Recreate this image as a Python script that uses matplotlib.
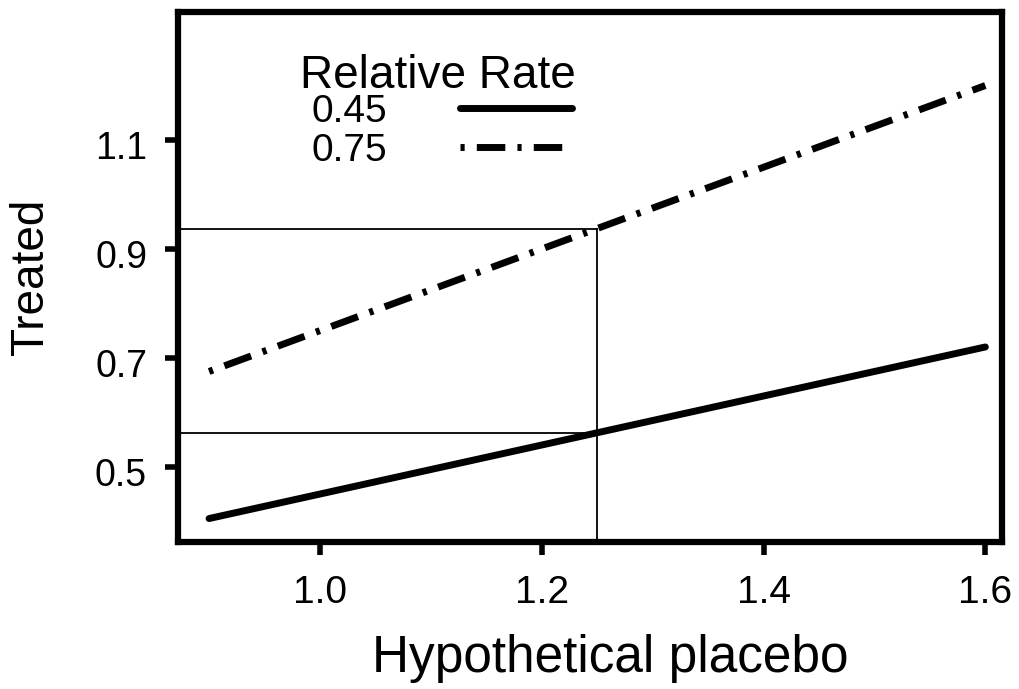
import matplotlib
matplotlib.use("Agg")
import matplotlib.pyplot as plt
import matplotlib.transforms as mtransforms

plt.rcParams['font.family'] = ['Liberation Sans', 'DejaVu Sans']

# Data
placebo = [0.90, 1.60]
treated_rr045 = [0.405, 0.720]
treated_rr075 = [0.675, 1.200]
rate_labels = ["0.45", "0.75"]
legend_title = "Relative Rate"
ref_placebo = 1.25
ref_treated = [0.5625, 0.9375]
xticks = [1.0, 1.2, 1.4, 1.6]
xticklabels = ["1.0", "1.2", "1.4", "1.6"]
yticks = [0.5, 0.7, 0.9, 1.1]
yticklabels = ["0.5", "0.7", "0.9", "1.1"]

fig = plt.figure(figsize=(10.19, 6.89), dpi=100)
ax = fig.add_axes([0.1747, 0.2134, 0.8086, 0.7692])

xmin, xmax = 0.872, 1.615
ymin, ymax = 0.362, 1.335
ax.set_xlim(xmin, xmax)
ax.set_ylim(ymin, ymax)

# reference lines
for yv in ref_treated:
    ax.plot([xmin, ref_placebo], [yv, yv], color='black', lw=1.3, zorder=2)
ax.plot([ref_placebo, ref_placebo], [ymin, max(ref_treated)], color='black', lw=1.3, zorder=2)

l1, = ax.plot(placebo, treated_rr045, color='black', lw=5, solid_capstyle='round',
              label=rate_labels[0], zorder=3)
l2, = ax.plot(placebo, treated_rr075, color='black', lw=5, dash_capstyle='butt',
              label=rate_labels[1], zorder=3)
l2.set_dashes([0.6, 1.75, 4.1, 1.75])

ax.set_xticks(xticks)
ax.set_xticklabels(xticklabels)
ax.set_yticks(yticks)
ax.set_yticklabels(yticklabels)
ax.tick_params(direction='out', length=9.5, width=4)
ax.tick_params(axis='x', labelsize=28, pad=14.5)
ax.tick_params(axis='y', labelsize=27, pad=12.8)

# nudge y tick labels slightly down as in the reference
offset = mtransforms.ScaledTranslation(0, -5 / 100, fig.dpi_scale_trans)
for lab in ax.get_yticklabels():
    lab.set_transform(lab.get_transform() + offset)

for sp in ax.spines.values():
    sp.set_linewidth(4.5)

ax.set_xlabel("Hypothetical placebo", fontsize=37, labelpad=16)
ax.xaxis.label.set_x(0.524)
ax.set_ylabel("Treated", fontsize=33, labelpad=30)

leg = ax.legend(handles=[l1, l2], markerfirst=False, frameon=False,
                loc='upper left', bbox_to_anchor=(0.162, 0.8455), fontsize=28,
                handlelength=2.88, handletextpad=1.87,
                labelspacing=0.08, borderpad=0, borderaxespad=0)

ax.text(0.148, 0.856, legend_title, transform=ax.transAxes, fontsize=33,
        ha='left', va='baseline')

fig.savefig("out.png", dpi=100)
